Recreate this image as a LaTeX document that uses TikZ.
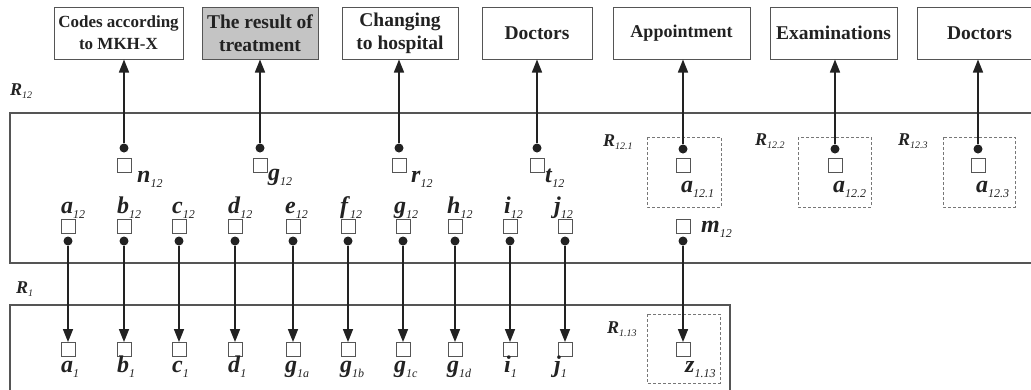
\documentclass[tikz,border=0pt]{standalone}
\usepackage{fontspec}
\setmainfont{Liberation Serif}
\usetikzlibrary{arrows.meta}

% bold italic letter with a lowered italic index
\newcommand{\lbl}[2]{\textbf{\textit{#1}}\raisebox{-5pt}{\fontsize{12}{12}\selectfont\itshape #2}}
\newcommand{\rlbl}[1]{\textbf{\textit{R}}\raisebox{-3pt}{\fontsize{10}{10}\selectfont\itshape #1}}

\definecolor{ink}{HTML}{222222}
\definecolor{edge}{HTML}{555555}
\definecolor{shade}{HTML}{C4C4C4}

\tikzset{
  tbox/.style={draw=edge, line width=1pt, minimum height=52pt, inner sep=0pt,
    align=center, text=ink},
  sq/.style={draw=edge, line width=0.9pt, minimum size=14pt, inner sep=0pt},
  dotc/.style={circle, fill=ink, minimum size=9pt, inner sep=0pt},
  arr/.style={draw=ink, line width=1.6pt, -{Triangle[length=13pt,width=10pt]}},
  lab/.style={inner sep=0pt, text=ink, font=\fontsize{24}{24}\selectfont},
  rlab/.style={inner sep=0pt, text=ink, font=\fontsize{18}{18}\selectfont},
  frame/.style={draw=edge, line width=1.3pt},
  group/.style={draw=edge!80, line width=1pt, dash pattern=on 3pt off 2pt},
}

\begin{document}
\begin{tikzpicture}[x=1pt, y=-1pt]
\useasboundingbox (0,0) rectangle (1031,389);
\clip (0,0) rectangle (1031,389);

% heading boxes
\node[tbox, minimum width=129pt, font=\fontsize{17}{22}\selectfont\bfseries] (box1) at (118.5,33) {Codes according\\to MKH-X};
\node[tbox, fill=shade, minimum width=116pt, font=\fontsize{19.5}{23}\selectfont\bfseries] (box2) at (260,33) {The result of\\treatment};
\node[tbox, minimum width=116pt, font=\fontsize{19.5}{23}\selectfont\bfseries] (box3) at (400,33) {Changing\\to hospital};
\node[tbox, minimum width=110pt, font=\fontsize{19.5}{23}\selectfont\bfseries] (box4) at (537,33) {Doctors};
\node[tbox, minimum width=137pt, font=\fontsize{18}{22}\selectfont\bfseries] (box5) at (681.5,33) {\raisebox{3pt}{Appointment}};
\node[tbox, minimum width=127pt, font=\fontsize{19.5}{23}\selectfont\bfseries] (box6) at (833.5,33) {Examinations};
\node[tbox, minimum width=125pt, font=\fontsize{19.5}{23}\selectfont\bfseries] (box7) at (979.5,33) {Doctors};

% relation frames
\draw[frame] (10,113) rectangle (1045,263);
\draw[frame] (10,305) rectangle (730,400);
\node[rlab, anchor=base west] (r12) at (10,95) {\rlbl{12}};
\node[rlab, anchor=base west] (r1) at (16,293) {\rlbl{1}};

% sub-groups
\draw[group] (647,137) rectangle (721,207);
\draw[group] (798,137) rectangle (871,207);
\draw[group] (943,137) rectangle (1015,207);
\draw[group] (647,314) rectangle (720,383);
\node[rlab, anchor=base west] (r121) at (603,146) {\rlbl{12.1}};
\node[rlab, anchor=base west] (r122) at (755,145) {\rlbl{12.2}};
\node[rlab, anchor=base west] (r123) at (898,145) {\rlbl{12.3}};
\node[rlab, anchor=base west] (r113) at (607,333) {\rlbl{1.13}};

% attributes linked to the heading boxes
\foreach \nm/\x/\lx/\ly/\txt/\sub/\bx in {n/124/137/182/n/12/box1, g/260/268/180/g/12/box2,
    r/399/411/182/r/12/box3, t/537/545/182/t/12/box4}{
  \node[sq] (s\nm) at (\x,165) {};
  \node[dotc] (d\nm) at (\x,148) {};
  \node[lab, anchor=base west] (l\nm) at (\lx,\ly) {\lbl{\txt}{\sub}};
  \draw[arr] (d\nm) -- (d\nm |- \bx.south);
}
\foreach \nm/\x/\bx in {A/683/box5, B/835/box6, C/978/box7}{
  \node[sq] (s\nm) at (\x,165) {};
  \node[dotc] (d\nm) at (\x,149) {};
  \draw[arr] (d\nm) -- (d\nm |- \bx.south);
}
\node[lab, anchor=base west] (lA) at (681,192) {\lbl{a}{12.1}};
\node[lab, anchor=base west] (lB) at (833,192) {\lbl{a}{12.2}};
\node[lab, anchor=base west] (lC) at (976,192) {\lbl{a}{12.3}};

% attributes of R12 passed down to R1
\foreach \nm/\x/\tl/\bl/\bs/\dx in {a/68/a/a/1/7, b/124/b/b/1/7, c/179/c/c/1/7, d/235/d/d/1/7,
    e/293/e/g/1a/8, f/348/f/g/1b/8, g/403/g/g/1c/9, h/455/h/g/1d/8, i/510/i/i/1/6, j/565/j/j/1/11}{
  \node[sq] (u\nm) at (\x,226.5) {};
  \node[dotc] (du\nm) at (\x,241) {};
  \node[lab, anchor=base west] (lu\nm) at (\x-\dx,213) {\lbl{\tl}{12}};
  \node[sq] (b\nm) at (\x,349.5) {};
  \node[lab, anchor=base west] (lb\nm) at (\x-\dx,372) {\lbl{\bl}{\bs}};
  \draw[arr] (du\nm) -- (du\nm |- b\nm.north);
}

% m12 linked to z1.13
\node[sq] (um) at (683,226) {};
\node[dotc] (dum) at (683,241) {};
\node[lab, anchor=base west] (lum) at (701,232) {\lbl{m}{12}};
\node[sq] (bz) at (683,349.5) {};
\node[lab, anchor=base west] (lbz) at (685,372) {\lbl{z}{1.13}};
\draw[arr] (dum) -- (dum |- bz.north);
\end{tikzpicture}
\end{document}
